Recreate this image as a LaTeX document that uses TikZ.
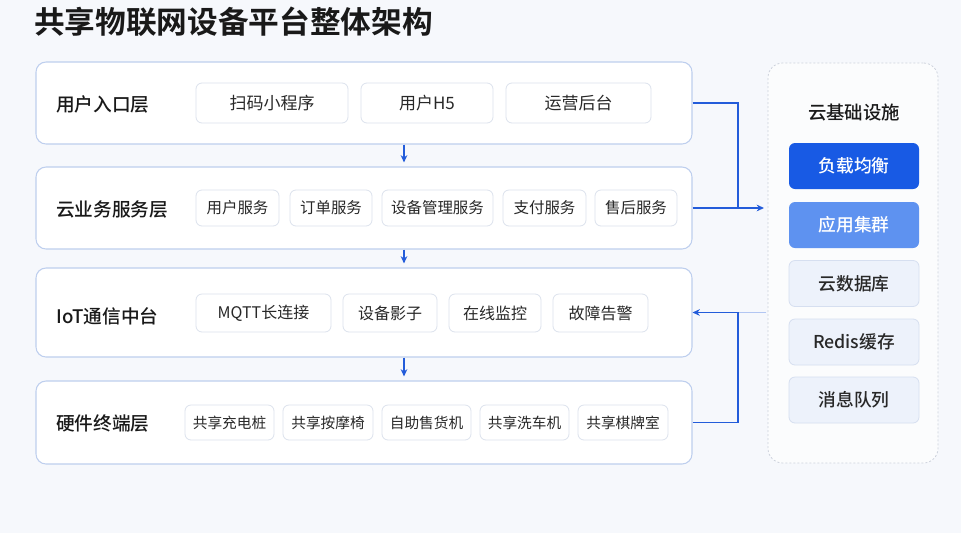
\documentclass[tikz,border=0pt]{standalone}
\usepackage{fontspec}
\setmainfont{Noto Sans CJK SC}[BoldFont={Noto Sans CJK SC Bold}]
\newfontfamily\medfont{Noto Sans CJK SC Medium}
\usetikzlibrary{arrows.meta}
\definecolor{bgc}{RGB}{246,248,252}
\definecolor{layerc}{RGB}{190,207,238}
\definecolor{iboxc}{RGB}{220,226,237}
\definecolor{txt}{RGB}{40,40,40}
\definecolor{ttl}{RGB}{25,25,25}
\definecolor{arrc}{RGB}{35,92,218}
\definecolor{darkb}{RGB}{24,90,228}
\definecolor{midb}{RGB}{94,146,240}
\definecolor{lightb}{RGB}{237,242,251}
\definecolor{lightbd}{RGB}{214,223,240}
\definecolor{panelc}{RGB}{205,210,220}
\begin{document}
\begin{tikzpicture}[x=0.75pt,y=-0.75pt,
  layer/.style={draw=layerc, fill=white, rounded corners=7.5pt, line width=0.8pt, minimum width=492pt, inner sep=0pt},
  ibox/.style={draw=iboxc, fill=white, rounded corners=4.5pt, line width=0.6pt, inner sep=0pt, text=txt},
  lab/.style={anchor=west, inner sep=0pt, text=ttl, font=\medfont\fontsize{14}{16}\selectfont},
  rbox/.style={rounded corners=4.5pt, minimum width=97.5pt, minimum height=34.5pt, inner sep=0pt, font=\medfont\fontsize{13.3}{15}\selectfont},
  lbox/.style={rbox, fill=lightb, draw=lightbd, line width=0.6pt, text=txt},
  conn/.style={draw=arrc, line width=0.9pt},
  arr/.style={conn, -{Stealth[length=5.5pt,width=5pt]}},
  f1/.style={font=\fontsize{12.75}{15}\selectfont},
  f2/.style={font=\fontsize{11.6}{14}\selectfont},
  f3/.style={font=\fontsize{12}{14}\selectfont},
  f4/.style={font=\fontsize{11}{13}\selectfont}
]
\useasboundingbox[fill=bgc] (0,0) rectangle (961,533);

\node[anchor=west, inner sep=0pt, text=ttl, font=\bfseries\fontsize{23}{26}\selectfont] (title) at (34,22) {共享物联网设备平台整体架构};

% layers
\node[layer, minimum height=61.5pt] (L1) at (364,103) {};
\node[layer, minimum height=61.5pt] (L2) at (364,208) {};
\node[layer, minimum height=66.75pt] (L3) at (364,312.5) {};
\node[layer, minimum height=62.25pt] (L4) at (364,422.5) {};

\node[lab] (t1) at (56,104) {用户入口层};
\node[lab] (t2) at (56,209) {云业务服务层};
\node[lab] (t3) at (56,316) {IoT通信中台};
\node[lab] (t4) at (56,423) {硬件终端层};

% layer 1
\node[ibox, f1, minimum width=114pt, minimum height=30pt] (a1) at (272,103) {扫码小程序};
\node[ibox, f1, minimum width=99pt, minimum height=30pt] (a2) at (427,103) {用户H5};
\node[ibox, f1, minimum width=108.75pt, minimum height=30pt] (a3) at (578.5,103) {运营后台};

% layer 2
\node[ibox, f2, minimum width=62.25pt, minimum height=27pt] (b1) at (237.5,208) {用户服务};
\node[ibox, f2, minimum width=61.5pt, minimum height=27pt] (b2) at (331,208) {订单服务};
\node[ibox, f2, minimum width=83.25pt, minimum height=27pt] (b3) at (437.5,208) {设备管理服务};
\node[ibox, f2, minimum width=62.25pt, minimum height=27pt] (b4) at (544.5,208) {支付服务};
\node[ibox, f2, minimum width=61.5pt, minimum height=27pt] (b5) at (636,208) {售后服务};

% layer 3
\node[ibox, f3, minimum width=101.25pt, minimum height=28.5pt] (c1) at (263.5,313) {MQTT长连接};
\node[ibox, f3, minimum width=70.5pt, minimum height=28.5pt] (c2) at (390,313) {设备影子};
\node[ibox, f3, minimum width=69pt, minimum height=28.5pt] (c3) at (495,313) {在线监控};
\node[ibox, f3, minimum width=71.25pt, minimum height=28.5pt] (c4) at (600.5,313) {故障告警};

% layer 4
\node[ibox, f4, minimum width=66.75pt, minimum height=26.25pt] (d1) at (229.5,422.5) {共享充电桩};
\node[ibox, f4, minimum width=67.5pt, minimum height=26.25pt] (d2) at (328,422.5) {共享按摩椅};
\node[ibox, f4, minimum width=66.75pt, minimum height=26.25pt] (d3) at (426.5,422.5) {自助售货机};
\node[ibox, f4, minimum width=66.75pt, minimum height=26.25pt] (d4) at (524.5,422.5) {共享洗车机};
\node[ibox, f4, minimum width=67.5pt, minimum height=26.25pt] (d5) at (623,422.5) {共享棋牌室};

% right panel
\node[draw=panelc, dashed, dash pattern=on 1.5pt off 1.5pt, fill=white, fill opacity=0.6, draw opacity=1, rounded corners=11pt, line width=0.6pt, minimum width=127.5pt, minimum height=300pt, inner sep=0pt] (P) at (853,263) {};
\node[inner sep=0pt, text=ttl, font=\medfont\fontsize{13.8}{16}\selectfont] (pt) at (854,113) {云基础设施};
\node[rbox, fill=darkb, text=white] (r1) at (854,166) {负载均衡};
\node[rbox, fill=midb, text=white] (r2) at (854,225) {应用集群};
\node[lbox] (r3) at (854,283.5) {云数据库};
\node[lbox] (r4) at (854,342) {Redis缓存};
\node[lbox] (r5) at (854,400) {消息队列};

% vertical arrows
\draw[arr] ([xshift=30pt]L1.south) -- ([xshift=30pt,yshift=3pt]L2.north);
\draw[arr] ([xshift=30pt]L2.south) -- ([xshift=30pt,yshift=3pt]L3.north);
\draw[arr] ([xshift=30pt]L3.south) -- ([xshift=30pt,yshift=3pt]L4.north);

% side connectors
\coordinate (j1) at (738,208);
\coordinate (pin) at (764,208);
\coordinate (j2) at (738,312.5);
\coordinate (pout) at (766,312.5);
\draw[conn] (L1.east) -| (j1);
\draw[arr] (L2.east) -- (pin);
\draw[draw=arrc!35, line width=0.9pt] (pout) -- (j2);
\draw[arr] (L4.east) -| (j2) -- (L3.east);
\end{tikzpicture}
\end{document}
